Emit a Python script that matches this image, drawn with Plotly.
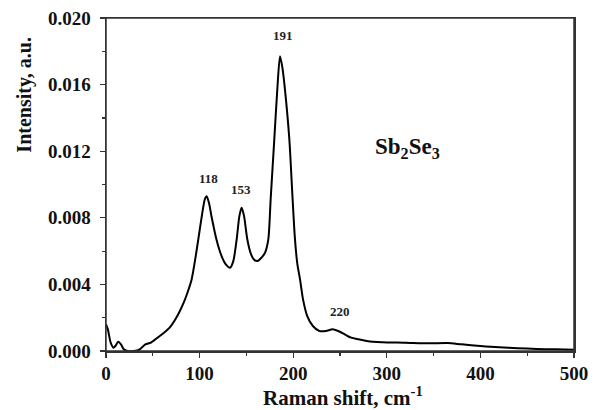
import plotly.graph_objects as go

raman_shift = [0, 2, 5, 8, 10, 13, 16, 19, 23, 30, 36, 42, 48, 55, 62, 68, 73, 78, 83, 87,
               91.5, 95, 98.6, 102.9, 105.5, 107.5, 110, 113, 118, 123.5, 128, 132.5, 136,
               139.6, 142.5, 144.9, 147.5, 151, 155, 158, 161.7, 166, 169.9, 173.4, 176,
               179.8, 183, 185.9, 188.5, 191.2, 195.9, 199, 201.9, 204.5, 207.3, 210.5, 215,
               221, 228, 235, 242, 248, 255, 262, 270, 280, 295, 320, 345, 365, 380, 400,
               420, 440, 460, 480, 500]
intensity = [0.0016, 0.0013, 0.0005, 0.0002, 0.0003, 0.00055, 0.0004, 0.0001, 0.0, 0.0,
             0.0001, 0.0004, 0.0005, 0.0008, 0.0011, 0.0014, 0.0018, 0.0023, 0.0029, 0.0035,
             0.0043, 0.0054, 0.0067, 0.0083, 0.0091, 0.0093, 0.0089, 0.0080, 0.0067, 0.0057,
             0.0052, 0.0050, 0.0054, 0.0067, 0.0081, 0.0086, 0.0081, 0.0067, 0.0058, 0.0055,
             0.0054, 0.0056, 0.0059, 0.0067, 0.0092, 0.0127, 0.0157, 0.0177, 0.0170, 0.0157,
             0.0127, 0.0095, 0.0067, 0.0052, 0.0043, 0.0031, 0.0021, 0.0015, 0.0012, 0.0012,
             0.0013, 0.0012, 0.0010, 0.0008, 0.0007, 0.00058, 0.00053, 0.0005, 0.00046,
             0.00048, 0.0004, 0.0003, 0.00022, 0.00017, 0.00012, 0.0001, 0.00008]

peak_labels = ["118", "153", "191", "220"]
peak_label_x = [110, 144, 189, 250]
peak_label_y = [0.01039, 0.00973, 0.01892, 0.0024]

x_ticks = [0, 100, 200, 300, 400, 500]
y_ticks = [0.000, 0.004, 0.008, 0.012, 0.016, 0.020]

FONT = "Liberation Serif"

fig = go.Figure()
fig.add_trace(go.Scatter(
    x=raman_shift, y=intensity, mode="lines",
    line=dict(color="black", width=2, shape="spline", smoothing=0.7),
    showlegend=False, hoverinfo="skip", cliponaxis=False))

for t, xx, yy in zip(peak_labels, peak_label_x, peak_label_y):
    fig.add_annotation(x=xx, y=yy, text=f"<b>{t}</b>", showarrow=False,
                       font=dict(family=FONT, size=13, color="#222"))

fig.add_annotation(x=322, y=0.0122, text="<b>Sb<sub>2</sub>Se<sub>3</sub></b>",
                   showarrow=False, font=dict(family=FONT, size=23, color="#111"))

fig.add_annotation(xref="paper", yref="paper", x=-0.173, y=0.77,
                   xanchor="center", yanchor="middle",
                   text="<b>Intensity, a.u.</b>", textangle=-90, showarrow=False,
                   font=dict(family=FONT, size=20, color="#111"))
fig.add_annotation(xref="paper", yref="paper", x=0.506, y=-0.138,
                   xanchor="center", yanchor="middle",
                   text="<b>Raman shift, cm<sup>-1</sup></b>", showarrow=False,
                   font=dict(family=FONT, size=21, color="#111"))

# plot frame (top and right sides without ticks)
fig.add_shape(type="rect", xref="paper", yref="paper", x0=0, x1=1, y0=0, y1=1,
              line=dict(color="#333", width=1.5), layer="above")

axis_common = dict(showline=True, linecolor="#333", linewidth=1.5, mirror=True,
                   ticks="outside", ticklen=5, tickwidth=1.2, tickcolor="#333",
                   showgrid=False, zeroline=False, automargin=False,
                   ticklabeloverflow="allow",
                   tickfont=dict(family=FONT, size=19, color="#111"))

fig.update_xaxes(range=[0, 500], tickvals=x_ticks, ticktext=[f"<b>{v}</b>" for v in x_ticks],
                 minor=dict(ticks="outside", ticklen=3, tickcolor="#333", dtick=50, tick0=0),
                 **axis_common)
fig.update_yaxes(range=[0, 0.020], tickvals=y_ticks, ticktext=[f"<b>{v:.3f}</b>" for v in y_ticks],
                 minor=dict(ticks="outside", ticklen=3, tickcolor="#333", dtick=0.002, tick0=0),
                 ticklabelstandoff=5,
                 **axis_common)

# page body has an 8px margin, so the figure is shifted by (8, 8)
fig.update_layout(width=592, height=402, margin=dict(l=98, r=26, t=10, b=59),
                  plot_bgcolor="white", paper_bgcolor="white")

fig.write_html("out.html", config={"displayModeBar": False, "staticPlot": True})
